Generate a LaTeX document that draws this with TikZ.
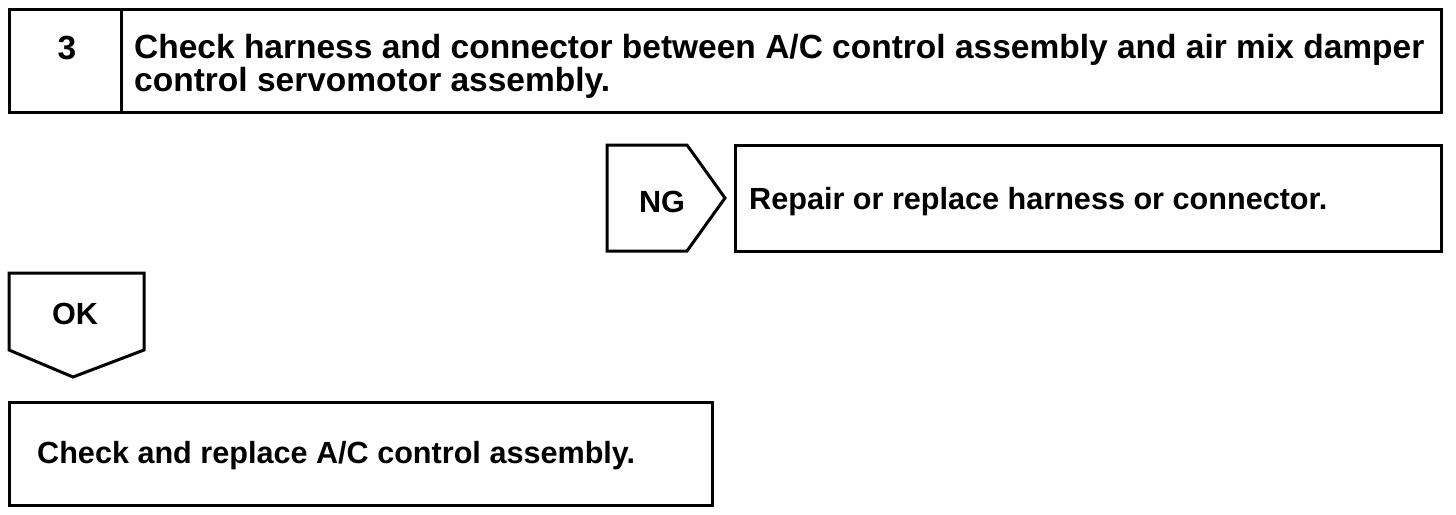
\documentclass[tikz,border=0pt]{standalone}
\usepackage{fontspec}
\setmainfont{Liberation Sans}
\usepackage{xcolor}
\usepackage{tikz}

\tikzset{
  stepbox/.style={draw=black, line width=3pt},
  steptext/.style={font=\fontsize{30.6}{33}\selectfont\bfseries, inner sep=0pt},
  headtext/.style={font=\fontsize{33.5}{33}\selectfont\bfseries, inner sep=0pt},
}

\begin{document}
\begin{tikzpicture}[x=1pt, y=-1pt]
        \useasboundingbox (0,0) rectangle (1456,514);
        % step 3 header
        \draw[stepbox] (9,9) rectangle (1441,112);
        \draw[stepbox] (121,9) -- (121,112);
        \node[headtext] (stepno) at (67,48) {3};
        \node[headtext, anchor=west, align=left] (steptitle) at (134,66) {Check harness and connector between A/C control assembly and air mix damper\\control servomotor assembly.};
        % NG branch
        \draw[stepbox] (607,145) -- (687,145) -- (725,198) -- (687,251) -- (607,251) -- cycle;
        \node[steptext] (ng) at (662,202) {NG};
        \draw[stepbox] (735,145) rectangle (1441,251);
        \node[steptext, anchor=west] (repair) at (749,202) {Repair or replace harness or connector.};
        % OK branch
        \draw[stepbox] (9,273) -- (144,273) -- (144,350) -- (73,377) -- (9,350) -- cycle;
        \node[steptext] (ok) at (75,314) {OK};
        \draw[stepbox] (9,402) rectangle (712,505);
        \node[steptext, anchor=west] (replace) at (37,456) {Check and replace A/C control assembly.};
    \end{tikzpicture}
\end{document}
